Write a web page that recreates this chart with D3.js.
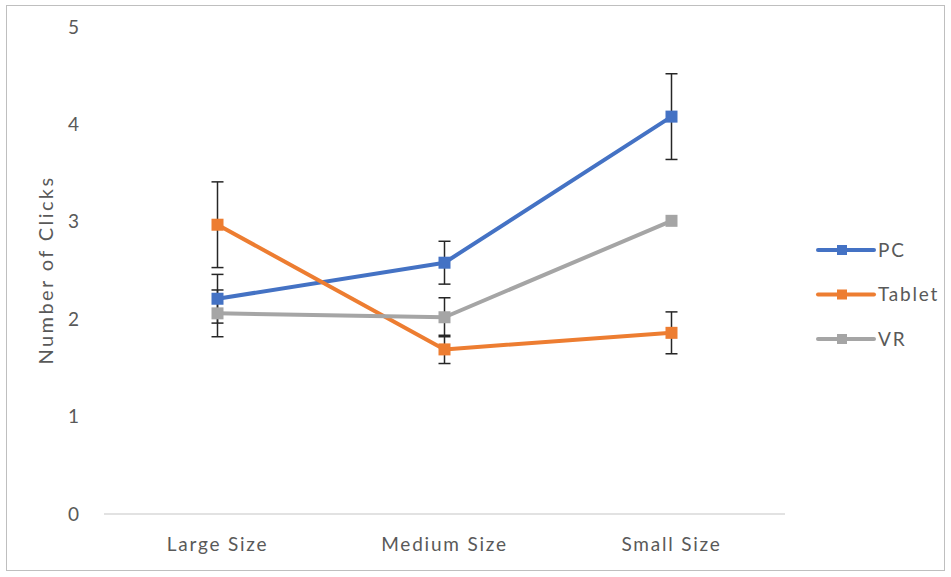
<!DOCTYPE html>
<html><head><meta charset="utf-8">
<script src="https://cdn.jsdelivr.net/npm/d3@7"></script>
<style>body{margin:0;background:#fff;} text{font-family:Lato,"Open Sans",sans-serif;fill:#595959;}</style>
</head><body><svg id="c" width="951" height="577"></svg>
<script>
const categories = ["Large Size", "Medium Size", "Small Size"];
const seriesNames = ["PC", "Tablet", "VR"];
const colors = ["#4472C4", "#ED7D31", "#A5A5A5"];
const pcValues = [2.21, 2.58, 4.08];
const pcErrors = [0.25, 0.22, 0.44];
const tabletValues = [2.97, 1.69, 1.86];
const tabletErrors = [0.44, 0.145, 0.215];
const vrValues = [2.06, 2.02, 3.01];
const vrErrors = [0.24, 0.20, 0];
const yTicks = [0, 1, 2, 3, 4, 5];

const series = [
  {name: seriesNames[0], color: colors[0], values: pcValues, errors: pcErrors},
  {name: seriesNames[1], color: colors[1], values: tabletValues, errors: tabletErrors},
  {name: seriesNames[2], color: colors[2], values: vrValues, errors: vrErrors}
];

const svg = d3.select("#c");
svg.append("rect").attr("x", 6.5).attr("y", 5.5).attr("width", 938).attr("height", 565)
  .attr("fill", "#fff").attr("stroke", "#bfbfbf").attr("stroke-width", 1);

const x = d3.scaleBand().domain(categories).range([104, 785]);
const y = d3.scaleLinear().domain([0, 5]).range([514, 27]);

// axis line
svg.append("line").attr("x1", 104).attr("x2", 785).attr("y1", y(0)).attr("y2", y(0))
  .attr("stroke", "#d9d9d9").attr("stroke-width", 1.5);

// y ticks
svg.selectAll(".yt").data(yTicks).enter().append("text")
  .attr("x", 79).attr("y", d => y(d)).attr("dy", "0.35em").attr("text-anchor", "end")
  .style("font-size", "19px").text(d => d);

// x labels
svg.selectAll(".xt").data(categories).enter().append("text")
  .attr("x", d => x(d) + x.bandwidth() / 2).attr("y", 544).attr("dy", "0.35em")
  .attr("text-anchor", "middle").style("font-size", "19px").style("letter-spacing", "1.8px").text(d => d);

// y title
svg.append("text").attr("transform", "translate(46,270) rotate(-90)")
  .attr("text-anchor", "middle").attr("dy", "0.35em").style("font-size", "20px")
  .style("letter-spacing", "2.4px").text("Number of Clicks");

const cx = c => x(c) + x.bandwidth() / 2;
const line = d3.line().x((d, i) => cx(categories[i])).y(d => y(d));

series.forEach(s => {
  svg.append("path").datum(s.values).attr("d", line).attr("fill", "none")
    .attr("stroke", s.color).attr("stroke-width", 4).attr("stroke-linejoin", "round");
});

// error bars
series.forEach(s => {
  const g = svg.append("g");
  s.values.forEach((v, i) => {
    const e = s.errors[i];
    if (!e) return;
    const px = cx(categories[i]);
    g.append("line").attr("x1", px).attr("x2", px).attr("y1", y(v + e)).attr("y2", y(v - e))
      .attr("stroke", "#262626").attr("stroke-width", 1.5);
    [v + e, v - e].forEach(t => g.append("line").attr("x1", px - 6).attr("x2", px + 6)
      .attr("y1", y(t)).attr("y2", y(t)).attr("stroke", "#262626").attr("stroke-width", 1.5));
  });
});

// markers
series.forEach(s => {
  svg.selectAll(null).data(s.values).enter().append("rect")
    .attr("x", (d, i) => cx(categories[i]) - 6).attr("y", d => y(d) - 6)
    .attr("width", 12).attr("height", 12).attr("fill", s.color);
});

// legend
const lg = svg.append("g");
series.forEach((s, i) => {
  const ly = 250 + i * 44.5;
  lg.append("line").attr("x1", 818).attr("x2", 874).attr("y1", ly).attr("y2", ly)
    .attr("stroke", s.color).attr("stroke-width", 4).attr("stroke-linecap", "round");
  lg.append("rect").attr("x", 842 - 5).attr("y", ly - 5).attr("width", 10).attr("height", 10).attr("fill", s.color);
  lg.append("text").attr("x", 878).attr("y", ly).attr("dy", "0.35em").style("font-size", "19px")
    .style("letter-spacing", "1.8px").text(s.name);
});
</script></body></html>
